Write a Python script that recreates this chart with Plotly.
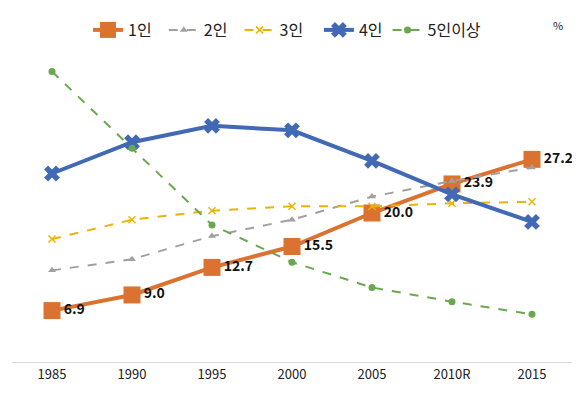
import plotly.graph_objects as go

years = ["1985", "1990", "1995", "2000", "2005", "2010R", "2015"]
one = [6.9, 9.0, 12.7, 15.5, 20.0, 23.9, 27.2]
two = [12.3, 13.8, 16.9, 19.1, 22.2, 24.3, 26.1]
three = [16.5, 19.1, 20.3, 20.9, 20.9, 21.3, 21.5]
four = [25.3, 29.5, 31.7, 31.1, 27.0, 22.5, 18.8]
five = [39.0, 28.7, 18.4, 13.4, 10.0, 8.1, 6.4]

FONT = "Noto Sans CJK KR, Noto Sans, sans-serif"
NB = "\u00a0"

fig = go.Figure()
fig.add_trace(go.Scatter(
    x=years, y=one, name="1인" + NB * 2, mode="lines+markers+text",
    line=dict(color="#DB7230", width=4),
    marker=dict(symbol="square", size=17, color="#DB7230"),
    text=[f"<b>{v:.1f}</b>" for v in one], textposition="middle right",
    textfont=dict(family=FONT, size=14, color="#111111"),
))
fig.add_trace(go.Scatter(
    x=years, y=two, name="2인" + NB * 2, mode="lines+markers",
    line=dict(color="#A0A0A0", width=2, dash="dash"),
    marker=dict(symbol="triangle-up", size=7, color="#A0A0A0"),
))
fig.add_trace(go.Scatter(
    x=years, y=three, name="3인" + NB * 3, mode="lines+markers",
    line=dict(color="#EBB400", width=2, dash="dash"),
    marker=dict(symbol="x-thin-open", size=7, color="#EBB400", line=dict(width=1.5, color="#EBB400")),
))
fig.add_trace(go.Scatter(
    x=years, y=four, name="4인", mode="lines+markers",
    line=dict(color="#4169B4", width=4),
    marker=dict(symbol="x", size=14, color="#4169B4"),
))
fig.add_trace(go.Scatter(
    x=years, y=five, name="5인이상", mode="lines+markers",
    line=dict(color="#6AA84F", width=2, dash="dash"),
    marker=dict(symbol="circle", size=7, color="#6AA84F"),
))

# page body has an 8px margin, so the figure is offset by 8px
W, H = 578, 389
L, T = 4, 56
PW, PH = 560, 298
fig.update_layout(
    width=W, height=H,
    margin=dict(l=L, r=W - L - PW, t=T, b=H - T - PH, autoexpand=False),
    paper_bgcolor="white", plot_bgcolor="white",
    font=dict(family=FONT, color="#222222"),
    showlegend=True,
    legend=dict(orientation="h", x=(88 - 8 - L) / PW, xanchor="left", y=1 + (T - 22) / PH, yanchor="middle",
                font=dict(family=FONT, size=16, color="#222222"),
                itemwidth=30, tracegroupgap=0),
    xaxis=dict(type="category", showgrid=False, showline=True, linecolor="#D9D9D9", linewidth=1,
               ticks="", tickfont=dict(family=FONT, size=13, color="#222222"), range=[-0.5, 6.5],
               fixedrange=True),
    yaxis=dict(range=[0, 40], showgrid=False, showticklabels=False, zeroline=False, showline=False,
               fixedrange=True),
    annotations=[dict(text="%", xref="paper", yref="paper", x=(558 - 8 - L) / PW, y=1 + (T - 17) / PH,
                      xanchor="center", yanchor="middle",
                      showarrow=False, font=dict(family=FONT, size=11, color="#222222"))],
)

fig.write_html("out.html")
